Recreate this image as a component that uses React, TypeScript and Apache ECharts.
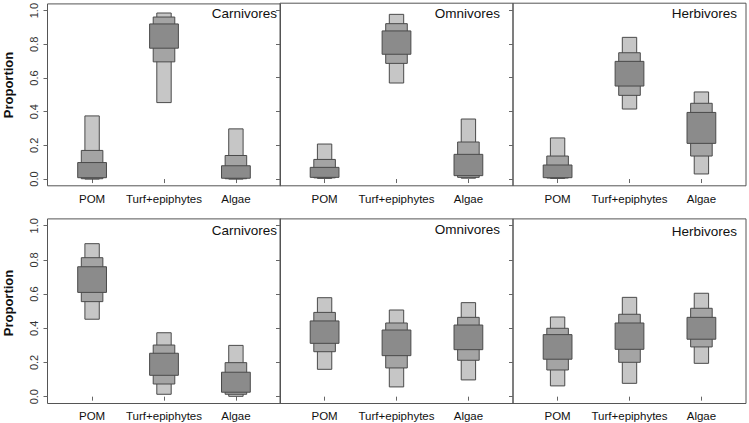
import React, { useEffect, useRef } from "react";
import * as echarts from "echarts";

const categories = ["POM", "Turf+epiphytes", "Algae"];
const groups = ["Carnivores", "Omnivores", "Herbivores"];
const yTicks = [0, 0.2, 0.4, 0.6, 0.8, 1.0];
const xTicks = [1, 2, 3];

// Row 1 (top) — [low, high] for 95%, 75%, 50% intervals
const r1Carn95 = [[0.0, 0.375], [0.454, 0.986], [0.0, 0.298]];
const r1Carn75 = [[0.002, 0.17], [0.696, 0.962], [0.002, 0.14]];
const r1Carn50 = [[0.008, 0.098], [0.777, 0.921], [0.005, 0.079]];

const r1Omni95 = [[0.004, 0.207], [0.568, 0.974], [0.005, 0.355]];
const r1Omni75 = [[0.007, 0.116], [0.684, 0.919], [0.01, 0.219]];
const r1Omni50 = [[0.01, 0.069], [0.738, 0.876], [0.02, 0.146]];

const r1Herb95 = [[0.004, 0.243], [0.414, 0.838], [0.03, 0.515]];
const r1Herb75 = [[0.006, 0.136], [0.495, 0.747], [0.136, 0.448]];
const r1Herb50 = [[0.008, 0.083], [0.55, 0.696], [0.211, 0.394]];

// Row 2 (bottom)
const r2Carn95 = [[0.453, 0.895], [0.014, 0.374], [0.002, 0.3]];
const r2Carn75 = [[0.556, 0.813], [0.074, 0.302], [0.014, 0.199]];
const r2Carn50 = [[0.61, 0.76], [0.125, 0.254], [0.026, 0.143]];

const r2Omni95 = [[0.16, 0.579], [0.057, 0.507], [0.098, 0.55]];
const r2Omni75 = [[0.263, 0.493], [0.168, 0.431], [0.213, 0.464]];
const r2Omni50 = [[0.312, 0.443], [0.24, 0.39], [0.275, 0.419]];

const r2Herb95 = [[0.063, 0.466], [0.078, 0.581], [0.195, 0.605]];
const r2Herb75 = [[0.156, 0.4], [0.201, 0.482], [0.291, 0.517]];
const r2Herb50 = [[0.219, 0.363], [0.277, 0.431], [0.336, 0.464]];

const panels = [
  [r1Carn95, r1Carn75, r1Carn50],
  [r1Omni95, r1Omni75, r1Omni50],
  [r1Herb95, r1Herb75, r1Herb50],
  [r2Carn95, r2Carn75, r2Carn50],
  [r2Omni95, r2Omni75, r2Omni50],
  [r2Herb95, r2Herb75, r2Herb50],
];

const FONT = "'Liberation Sans', Arial, Helvetica, sans-serif";
const levelFill = ["#c6c6c6", "#a4a4a4", "#8b8b8b"];
const levelWidth = [0.2, 0.3, 0.4];

export default function App() {
  const ref = useRef<HTMLDivElement>(null);
  useEffect(() => {
    if (!ref.current) return;
    const chart = echarts.init(ref.current, null, { renderer: "svg" });
    const lefts = [47.5, 280, 513];
    const colW = 233;
    const rows = [
      { top: 3.2, height: 182.6 },
      { top: 218.9, height: 184.6 },
    ];
    const grid: any[] = [];
    const xAxis: any[] = [];
    const yAxis: any[] = [];
    const series: any[] = [];
    for (let i = 0; i < 6; i++) {
      const r = Math.floor(i / 3);
      const c = i % 3;
      grid.push({
        left: lefts[c],
        top: rows[r].top,
        width: colW,
        height: rows[r].height,
        show: true,
        borderColor: "#555",
        borderWidth: 1,
        backgroundColor: "transparent",
      });
      xAxis.push({
        type: "value",
        gridIndex: i,
        min: 0.38,
        max: 3.62,
        splitLine: { show: false },
        axisLine: { show: false },
        axisTick: {
          show: true,
          customValues: xTicks,
          length: 4,
          lineStyle: { color: "#666" },
        },
        axisLabel: {
          customValues: xTicks,
          formatter: (v: number) => categories[Math.round(v) - 1] || "",
          fontFamily: FONT,
          fontSize: 11.5,
          color: "#111",
          margin: r === 0 ? 7 : 6,
        },
      });
      yAxis.push({
        type: "value",
        gridIndex: i,
        min: -0.04,
        max: 1.04,
        splitLine: { show: false },
        axisLine: { show: false },
        axisTick: {
          show: true,
          customValues: yTicks,
          length: 4,
          lineStyle: { color: "#666" },
        },
        axisLabel: {
          show: c === 0,
          customValues: yTicks,
          rotate: 90,
          formatter: (v: number) => v.toFixed(1),
          fontFamily: FONT,
          fontSize: 11,
          color: "#333",
          margin: 8,
        },
      });
      for (let lv = 0; lv < 3; lv++) {
        const w = levelWidth[lv];
        const fill = levelFill[lv];
        series.push({
          type: "custom",
          xAxisIndex: i,
          yAxisIndex: i,
          z: 2 + lv,
          clip: false,
          encode: { x: 0, y: [1, 2] },
          data: panels[i][lv].map((d, k) => [k + 1, d[0], d[1]]),
          renderItem: (params: any, api: any) => {
            const x = api.value(0);
            const lo = api.value(1);
            const hi = api.value(2);
            const p1 = api.coord([x - w / 2, hi]);
            const p2 = api.coord([x + w / 2, lo]);
            return {
              type: "rect",
              shape: {
                x: p1[0],
                y: p1[1],
                width: p2[0] - p1[0],
                height: p2[1] - p1[1],
              },
              style: { fill, stroke: "#4a4a4a", lineWidth: 1 },
            };
          },
        });
      }
    }
    const titleRight = [277, 500, 737];
    const titleY = [13, 13, 13, 230, 229, 231];
    const graphic: any[] = [];
    for (let i = 0; i < 6; i++) {
      graphic.push({
        type: "text",
        x: titleRight[i % 3],
        y: titleY[i],
        style: {
          text: groups[i % 3],
          fontFamily: FONT,
          fontSize: 13.5,
          fill: "#111",
          textAlign: "right",
          textVerticalAlign: "middle",
        },
      });
    }
    [85, 303].forEach((cy) => {
      graphic.push({
        type: "text",
        x: 8,
        y: cy,
        rotation: Math.PI / 2,
        style: {
          text: "Proportion",
          fontFamily: FONT,
          fontSize: 13,
          fontWeight: "bold",
          fill: "#111",
          textAlign: "center",
          textVerticalAlign: "middle",
        },
      });
    });
    chart.setOption({
      animation: false,
      backgroundColor: "#fff",
      grid,
      xAxis,
      yAxis,
      series,
      graphic,
    });
    return () => chart.dispose();
  }, []);
  return (
    <div
      ref={ref}
      style={{ position: "fixed", left: 0, top: 0, width: 749, height: 423 }}
    />
  );
}
